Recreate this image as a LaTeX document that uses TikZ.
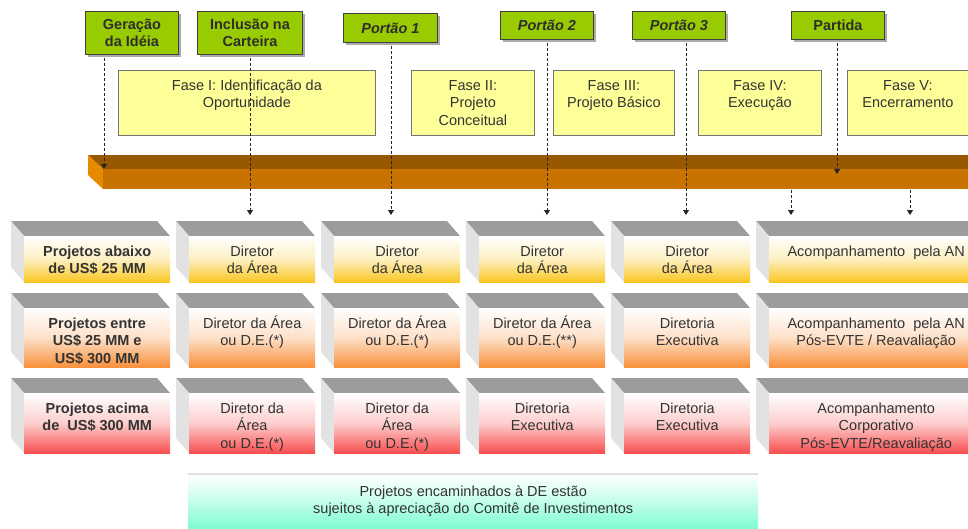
\documentclass[tikz,border=0pt]{standalone}
\usepackage{fontspec}
\setmainfont{Liberation Sans}
\usetikzlibrary{arrows.meta,shadows}
\definecolor{gatefill}{HTML}{99CC00}
\definecolor{gatetext}{HTML}{2E2E2E}
\definecolor{phasefill}{HTML}{FFFF99}
\definecolor{bartop}{HTML}{985800}
\definecolor{barfront}{HTML}{C87300}
\definecolor{barside}{HTML}{E88A00}
\definecolor{rowA}{HTML}{F9C620}
\definecolor{rowB}{HTML}{F8903A}
\definecolor{rowC}{HTML}{F84E4E}
\definecolor{cubetop}{HTML}{9C9C9C}
\definecolor{cubeside}{HTML}{E2E2E2}
\definecolor{notecol}{HTML}{78FCCF}
\definecolor{txt}{HTML}{333333}

\newcommand\tbox[4]{\parbox[c][#2pt][t]{#1pt}{\centering\rule{0pt}{#3pt}#4\par}}
\newcommand\cubebox[7]{%
  \fill[cubetop] (#2-13,#3-15) -- (#4-13,#3-15) -- (#4,#3) -- (#2,#3) -- cycle;
  \fill[cubeside] (#2-13,#3-15) -- (#2,#3) -- (#2,#5) -- (#2-13,#5-15) -- cycle;
  \node[cubefront, top color=white, bottom color=#6, middle color=#6!28!white, anchor=north west] (#1) at (#2,#3)
    {\parbox[c][\dimexpr #5pt-#3pt\relax][t]{\dimexpr #4pt-#2pt\relax}{\centering\rule{0pt}{20pt}#7\par}};%
}

\tikzset{
  basefont/.style={font=\fontsize{14.5}{17.5}\selectfont},
  gate/.style={basefont, draw=black!75, line width=0.9pt, fill=gatefill, text=gatetext,
    align=center, inner sep=0, anchor=north west, font=\fontsize{14.5}{17.5}\selectfont\bfseries,
    drop shadow={shadow xshift=3pt, shadow yshift=-3pt, fill=black!60, opacity=0.55}},
  phase/.style={basefont, draw=black!55, line width=0.8pt, fill=phasefill, text=txt, inner sep=0, anchor=north west},
  cubefront/.style={basefont, inner sep=0, text=txt},
  dashar/.style={draw=black!85, line width=0.9pt, dash pattern=on 3pt off 2pt,
    -{Triangle[length=5pt,width=6pt]}, shorten <=3pt},
  notebox/.style={basefont, inner sep=0, anchor=north west, text=txt,
    top color=white, bottom color=notecol, middle color=notecol!45!white}
}

\begin{document}
\begin{tikzpicture}[x=1pt,y=-1pt]
\useasboundingbox (0,0) rectangle (968,528);

% gates
\node[gate, minimum width=93, minimum height=43] (g1) at (85,11) {Geração\\da Idéia};
\node[gate, minimum width=105, minimum height=43] (g2) at (197,11) {Inclusão na\\Carteira};
\node[gate, minimum width=94, minimum height=29] (g3) at (343,13) {\itshape Portão 1};
\node[gate, minimum width=93, minimum height=28] (g4) at (500,11) {\itshape Portão 2};
\node[gate, minimum width=93, minimum height=28] (g5) at (632,11) {\itshape Portão 3};
\node[gate, minimum width=93, minimum height=28] (g6) at (791,11) {Partida};

% phases
\node[phase] (f1) at (118,70) {\tbox{257}{65}{20}{Fase I: Identificação da\\Oportunidade}};
\node[phase] (f2) at (411,70) {\tbox{123}{65}{20}{Fase II:\\Projeto\\Conceitual}};
\node[phase] (f3) at (553,70) {\tbox{121}{65}{20}{Fase III:\\Projeto Básico}};
\node[phase] (f4) at (698,70) {\tbox{123}{65}{20}{Fase IV:\\Execução}};
\node[phase] (f5) at (847,70) {\tbox{121}{65}{20}{Fase V:\\Encerramento}};

% bar
\fill[bartop] (88,155) -- (968,155) -- (968,169) -- (103,169) -- cycle;
\fill[barside] (88,155) -- (103,169) -- (103,189) -- (88,175) -- cycle;
\node[fill=barfront, inner sep=0, minimum width=865, minimum height=20, anchor=north west] (bar) at (103,169) {};

% matrix of boxes
\cubebox{r1c0}{24}{236}{170}{282}{rowA}{\bfseries Projetos abaixo\\de US\$ 25 MM}
\cubebox{r1c1}{189}{236}{315}{282}{rowA}{Diretor\\da Área}
\cubebox{r1c2}{334}{236}{460}{282}{rowA}{Diretor\\da Área}
\cubebox{r1c3}{479}{236}{605}{282}{rowA}{Diretor\\da Área}
\cubebox{r1c4}{624}{236}{750}{282}{rowA}{Diretor\\da Área}
\cubebox{r1c5}{769}{236}{983}{282}{rowA}{Acompanhamento\ \ pela AN}

\cubebox{r2c0}{24}{308}{170}{367}{rowB}{\bfseries Projetos entre\\US\$ 25 MM e\\US\$ 300 MM}
\cubebox{r2c1}{189}{308}{315}{367}{rowB}{Diretor da Área\\ou D.E.(*)}
\cubebox{r2c2}{334}{308}{460}{367}{rowB}{Diretor da Área\\ou D.E.(*)}
\cubebox{r2c3}{479}{308}{605}{367}{rowB}{Diretor da Área\\ou D.E.(**)}
\cubebox{r2c4}{624}{308}{750}{367}{rowB}{Diretoria\\Executiva}
\cubebox{r2c5}{769}{308}{983}{367}{rowB}{Acompanhamento\ \ pela AN\\Pós-EVTE / Reavaliação}

\cubebox{r3c0}{24}{393}{170}{453}{rowC}{\bfseries Projetos acima\\de\ \ US\$ 300 MM}
\cubebox{r3c1}{189}{393}{315}{453}{rowC}{Diretor da\\Área\\ou D.E.(*)}
\cubebox{r3c2}{334}{393}{460}{453}{rowC}{Diretor da\\Área\\ou D.E.(*)}
\cubebox{r3c3}{479}{393}{605}{453}{rowC}{Diretoria\\Executiva}
\cubebox{r3c4}{624}{393}{750}{453}{rowC}{Diretoria\\Executiva}
\cubebox{r3c5}{769}{393}{983}{453}{rowC}{Acompanhamento\\Corporativo\\Pós-EVTE/Reavaliação}

% note
\node[notebox] (nt) at (188,474) {\tbox{570}{56}{22}{Projetos encaminhados à DE estão\\sujeitos à apreciação do Comitê de Investimentos}};
\draw[black!12, line width=1.5pt] (nt.north west) -- (nt.north east);

% arrow end points
\coordinate (e1) at (104,169);
\coordinate (e2) at (250,215);
\coordinate (e3) at (391,215);
\coordinate (e4) at (547,215);
\coordinate (e5) at (686,215);
\coordinate (e6) at (837,174);
\coordinate (e7) at (791,215);
\coordinate (e8) at (910,215);

\draw[dashar] (g1.south -| e1) -- (e1);
\draw[dashar] (g2.south -| e2) -- (e2);
\draw[dashar] (g3.south -| e3) -- (e3);
\draw[dashar] (g4.south -| e4) -- (e4);
\draw[dashar] (g5.south -| e5) -- (e5);
\draw[dashar] (g6.south -| e6) -- (e6);
\draw[dashar, shorten <=1pt] (bar.south -| e7) -- (e7);
\draw[dashar, shorten <=1pt] (bar.south -| e8) -- (e8);
\end{tikzpicture}
\end{document}
